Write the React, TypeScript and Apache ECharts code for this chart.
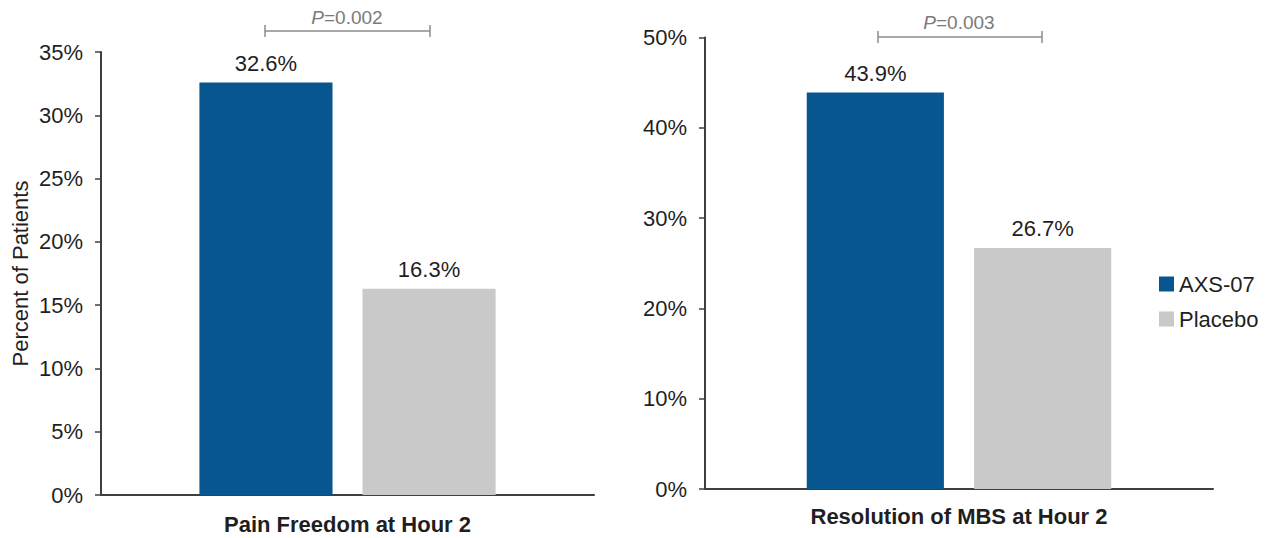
import React, { useEffect, useRef } from "react";
import * as echarts from "echarts";

const leftCategories = ["Pain Freedom at Hour 2"];
const rightCategories = ["Resolution of MBS at Hour 2"];
const seriesNames = ["AXS-07", "Placebo"];
const leftAxs = [32.6];
const leftPlacebo = [16.3];
const rightAxs = [43.9];
const rightPlacebo = [26.7];
const leftPValue = "0.002";
const rightPValue = "0.003";
const yAxisName = "Percent of Patients";

const FONT = "'Liberation Sans', Arial, sans-serif";
const BLUE = "#07568f";
const GRAY = "#c9c9c9";
const AXIS = "#3f3f3f";
const TEXT = "#1f1f1f";
const PGRAY = "#7a7a7a";

export default function App() {
  const ref = useRef<HTMLDivElement>(null);
  useEffect(() => {
    if (!ref.current) return;
    const chart = echarts.init(ref.current, undefined, { renderer: "svg" });
    const yAxisBase = (max: number, interval: number) => ({
      type: "value",
      min: 0,
      max,
      interval,
      axisLine: { show: true, lineStyle: { color: AXIS, width: 2 } },
      axisTick: { show: true, length: 6, lineStyle: { color: AXIS, width: 1.5 } },
      splitLine: { show: false },
      axisLabel: {
        formatter: "{value}%",
        fontSize: 22,
        color: TEXT,
        fontFamily: FONT,
        margin: 18,
      },
    });
    const xAxisBase = (data: string[], margin: number) => ({
      type: "category",
      data,
      axisLine: { show: true, lineStyle: { color: AXIS, width: 2 } },
      axisTick: { show: false },
      axisLabel: {
        fontSize: 22,
        fontWeight: "bold",
        color: TEXT,
        fontFamily: FONT,
        margin,
      },
    });
    const barLabel = {
      show: true,
      position: "top",
      distance: 8,
      formatter: "{c}%",
      fontSize: 22,
      color: TEXT,
      fontFamily: FONT,
    };
    const pText = (x: number, y: number, val: string) => ({
      type: "text",
      x,
      y,
      style: {
        text: "{i|P}=" + val,
        rich: {
          i: { fontStyle: "italic", fontSize: 19, fill: PGRAY, fontFamily: FONT },
        },
        fontSize: 19,
        fill: PGRAY,
        fontFamily: FONT,
        align: "center",
        verticalAlign: "middle",
      },
    });
    const bracket = (x1: number, x2: number, y: number) => [
      { type: "line", shape: { x1, y1: y, x2, y2: y }, style: { stroke: "#8c8c8c", lineWidth: 1.5 } },
      { type: "line", shape: { x1, y1: y - 6, x2: x1, y2: y + 6 }, style: { stroke: "#8c8c8c", lineWidth: 1.5 } },
      { type: "line", shape: { x1: x2, y1: y - 6, x2, y2: y + 6 }, style: { stroke: "#8c8c8c", lineWidth: 1.5 } },
    ];
    chart.setOption({
      animation: false,
      backgroundColor: "#ffffff",
      textStyle: { fontFamily: FONT },
      grid: [
        { left: 101, top: 52, width: 493, bottom: 43 },
        { left: 705, top: 37.5, width: 508, bottom: 49 },
      ],
      legend: {
        data: seriesNames,
        orient: "vertical",
        left: 1154,
        top: 268,
        icon: "rect",
        itemWidth: 15,
        itemHeight: 15,
        itemGap: 13,
        textStyle: { fontSize: 22, color: TEXT, fontFamily: FONT },
      },
      xAxis: [
        { ...xAxisBase(leftCategories, 18), gridIndex: 0 },
        { ...xAxisBase(rightCategories, 16), gridIndex: 1 },
      ],
      yAxis: [
        {
          ...yAxisBase(35, 5),
          gridIndex: 0,
          name: yAxisName,
          nameLocation: "middle",
          nameRotate: 90,
          nameGap: 70,
          nameTextStyle: { fontSize: 22, color: TEXT, fontFamily: FONT },
        },
        { ...yAxisBase(50, 10), gridIndex: 1 },
      ],
      series: [
        {
          name: seriesNames[0],
          type: "bar",
          xAxisIndex: 0,
          yAxisIndex: 0,
          data: leftAxs,
          barWidth: "27%",
          barGap: "22.5%",
          itemStyle: { color: BLUE },
          label: barLabel,
        },
        {
          name: seriesNames[1],
          type: "bar",
          xAxisIndex: 0,
          yAxisIndex: 0,
          data: leftPlacebo,
          barWidth: "27%",
          barGap: "22.5%",
          itemStyle: { color: GRAY },
          label: barLabel,
        },
        {
          name: seriesNames[0],
          type: "bar",
          xAxisIndex: 1,
          yAxisIndex: 1,
          data: rightAxs,
          barWidth: "27%",
          barGap: "22%",
          itemStyle: { color: BLUE },
          label: barLabel,
        },
        {
          name: seriesNames[1],
          type: "bar",
          xAxisIndex: 1,
          yAxisIndex: 1,
          data: rightPlacebo,
          barWidth: "27%",
          barGap: "22%",
          itemStyle: { color: GRAY },
          label: barLabel,
        },
      ],
      graphic: [
        ...bracket(265, 430, 31),
        pText(347, 17, leftPValue),
        ...bracket(878, 1042, 37),
        pText(959, 22, rightPValue),
      ],
    });
    return () => chart.dispose();
  }, []);
  return (
    <div
      ref={ref}
      style={{ position: "fixed", left: 0, top: 0, width: 1267, height: 538, background: "#fff" }}
    />
  );
}
